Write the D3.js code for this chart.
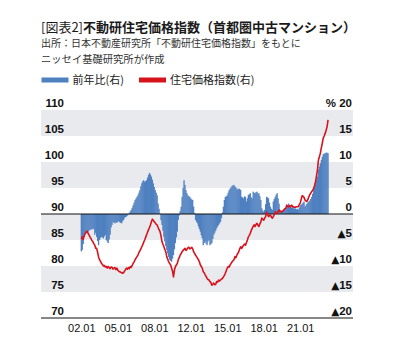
<!DOCTYPE html>
<html>
<head>
<meta charset="utf-8">
<script src="https://cdn.jsdelivr.net/npm/d3@7"></script>
<style>
  body { margin: 0; background: #fff; }
  svg { font-family: "Noto Sans", "Noto Sans CJK JP", sans-serif; }
  .jp { font-family: "Noto Sans CJK JP", sans-serif; }
  .axis text { fill: #111; }
</style>
</head>
<body>
<div id="chart-area"></div>
<script>

// Tick labels (x axis is monthly, starting 2002.01)
var tickLabels = ["02.01", "05.01", "08.01", "12.01", "15.01", "18.01", "21.01"];
var tickIndex = [0, 38, 76, 114, 152, 190, 228];
var leftTicks = [70, 75, 80, 85, 90, 95, 100, 105, 110];
var rightTicks = [-20, -15, -10, -5, 0, 5, 10, 15, 20];

// 住宅価格指数 (monthly, 2002.01 -)
var priceIndex = [
  85.2, 85.6, 85.1, 85.9, 86.2, 86.5, 86.7, 86.3, 86.0, 85.6, 85.3, 84.9,
  84.7, 84.3, 84.0, 83.4, 83.4, 82.6, 81.7, 81.2, 80.9, 80.5, 80.3, 80.0,
  80.1, 79.8, 79.9, 79.6, 79.9, 79.7, 79.5, 79.8, 79.75, 79.4, 79.6, 79.7,
  79.3, 79.6, 79.2, 79.0, 78.9, 78.8, 78.7, 78.6, 78.7, 79.0, 79.3, 79.6,
  79.4, 79.7, 79.5, 79.9, 79.75, 80.1, 80.5, 80.8, 81.2, 81.5, 81.8, 82.1,
  82.6, 82.9, 83.3, 83.7, 84.1, 84.6, 85.0, 85.5, 86.0, 86.5, 87.0, 87.4,
  87.9, 88.5, 89.0, 88.8, 88.5, 88.3, 88.0, 87.9, 87.4, 87.0, 86.6, 85.8,
  84.7, 84.2, 83.7, 83.2, 82.75, 81.8, 81.3, 80.8, 80.5, 80.2, 79.6, 79.0,
  77.9, 79.2, 79.9, 80.2, 80.5, 81.2, 81.6, 82.1, 82.4, 82.75, 83.0, 83.2,
  83.4, 83.0, 83.2, 83.5, 83.6, 83.3, 83.4, 83.6, 83.3, 82.75, 82.4, 82.1,
  81.8, 81.5, 81.2, 80.8, 80.2, 79.9, 79.6, 78.9, 78.7, 78.3, 78.0, 77.6,
  77.4, 77.3, 77.0, 76.8, 76.3, 76.5, 76.7, 76.4, 76.5, 77.0, 76.9, 77.3,
  77.1, 77.3, 77.5, 77.6, 77.9, 78.2, 78.6, 79.1, 79.6, 79.9, 79.8, 80.2,
  80.5, 80.8, 81.0, 81.2, 81.8, 81.6, 82.1, 82.4, 82.75, 83.3, 83.7, 83.4,
  83.7, 84.0, 84.2, 84.0, 84.5, 85.0, 85.6, 85.9, 86.3, 86.8, 87.25, 87.6,
  87.9, 87.6, 88.0, 88.2, 87.8, 87.6, 88.1, 88.5, 89.2, 89.0, 88.8, 89.2,
  89.5, 90.4, 89.9, 89.5, 89.7, 89.8, 89.4, 89.2, 89.5, 89.9, 90.4, 90.2,
  90.1, 90.5, 90.8, 90.4, 90.5, 90.4, 90.6, 90.8, 91.0, 91.1, 91.7, 91.5,
  91.4, 91.6, 91.4, 91.7, 91.5, 91.4, 91.3, 91.3, 91.4, 91.4, 91.4, 91.8,
  92.1, 92.8, 93.5, 93.4, 93.2, 92.7, 92.5, 92.4, 92.8, 93.3, 93.7, 94.0,
  94.3, 94.6, 94.9, 95.5, 96.2, 97.4, 98.5, 100.4, 101.0, 101.7, 102.7, 103.6,
  104.6, 105.0, 105.5, 106.1, 106.8, 108.1
];

// 前年比 % (monthly, 2002.01 -)
var yoyChange = [
  -7.2, -6.9, -5.8, -4.4, -3.9, -3.6, -3.3, -3.5, -3.2, -3.1, -2.9, -3.0,
  -2.8, -2.9, -4.0, -3.6, -4.4, -5.2, -6.0, -5.0, -4.6, -4.4, -4.5, -4.7,
  -4.3, -4.0, -5.0, -5.3, -5.6, -4.9, -4.0, -2.6, -2.1, -1.5, -1.7, -1.8,
  -1.6, -1.7, -1.5, -1.4, -1.6, -1.7, -1.8, -1.4, -1.15, -0.8, -0.6, -0.5,
  -0.3, -0.1, 0.2, 0.5, 0.8, 1.2, 1.7, 2.2, 2.7, 3.0, 3.3, 3.6,
  4.1, 4.6, 5.3, 5.9, 6.3, 6.5, 6.2, 6.3, 6.5, 7.0, 7.5, 7.9,
  7.6, 7.2, 6.6, 5.9, 5.2, 4.6, 4.1, 3.6, 2.0, 1.0, 0.1, -1.2,
  -2.1, -3.2, -4.4, -5.3, -6.2, -6.9, -7.6, -8.3, -8.8, -9.0, -9.2, -8.6,
  -7.9, -6.8, -5.6, -4.5, -3.4, -1.15, -0.3, 0.6, 1.4, 3.3, 5.0, 6.5,
  5.6, 4.6, 4.0, 3.6, 3.4, 3.3, 3.0, 2.8, 2.7, 1.4, 0.2, -1.15,
  -1.5, -1.8, -2.4, -2.9, -3.4, -4.1, -4.7, -6.0, -5.6, -5.3, -5.7, -6.0,
  -5.3, -5.0, -6.0, -5.8, -5.6, -4.8, -4.0, -3.6, -3.2, -2.75, -2.4, -2.1,
  -1.8, -1.5, -0.8, 0.3, 1.4, 2.7, 3.3, 3.4, 3.6, 4.1, 4.6, 4.9,
  5.1, 5.4, 5.5, 5.6, 5.3, 5.1, 4.9, 4.7, 4.9, 4.8, 4.6, 3.3,
  3.2, 3.0, 3.4, 3.3, 2.4, 3.0, 3.65, 3.8, 4.0, 3.2, 3.0, 4.3,
  4.1, 4.0, 4.2, 4.3, 3.9, 4.0, 3.4, 2.7, 1.1, 0.7, 0.45, 0.8,
  1.9, 3.3, 3.2, 3.0, 2.2, 1.4, 1.0, 0.8, 2.4, 2.9, 3.3, 3.7,
  4.0, 3.0, 2.0, 0.8, 0.6, 0.45, 0.6, 0.8, 1.1, 1.2, 1.4, 1.7,
  2.0, 1.6, 1.5, 1.2, 1.4, 1.3, 1.0, 1.1, 0.9, 1.0, 0.8, 1.2,
  1.7, 1.8, 2.0, 2.2, 2.4, 1.4, 1.7, 2.0, 2.2, 2.4, 2.6, 2.9,
  3.3, 3.9, 4.6, 5.2, 5.9, 6.6, 7.2, 8.5, 9.1, 9.75, 10.4, 11.0,
  11.5, 11.6, 11.7, 11.8, 11.8, 11.7
];

// SVG Size
var width = 395,
    height = 351;

var plotLeft = 41, plotRight = 353,
    plotTop = 110, plotBottom = 318;

var svg = d3.select("#chart-area").append("svg")
    .attr("width", width)
    .attr("height", height);

// Scales
var x = d3.scaleLinear()
    .domain([-42, 283])
    .range([plotLeft, plotRight]);

var yLeft = d3.scaleLinear()
    .domain([70, 110])
    .range([plotBottom, plotTop]);

var yRight = d3.scaleLinear()
    .domain([-20, 20])
    .range([plotBottom, plotTop]);

// Title & source
var title = svg.append("text")
    .attr("class", "jp")
    .attr("x", 41)
    .attr("y", 31.5)
    .attr("font-size", 13)
    .attr("fill", "#1a1a1a");
title.append("tspan").text("[図表2]");
title.append("tspan").attr("font-weight", "bold").text("不動研住宅価格指数（首都圏中古マンション）");

svg.append("text")
    .attr("class", "jp")
    .attr("x", 41).attr("y", 47)
    .attr("font-size", 10)
    .attr("fill", "#333")
    .text("出所：日本不動産研究所「不動研住宅価格指数」をもとに");

svg.append("text")
    .attr("class", "jp")
    .attr("x", 41).attr("y", 63)
    .attr("font-size", 10.3)
    .attr("fill", "#333")
    .text("ニッセイ基礎研究所が作成");

// Legend
var legend = [
  { label: "前年比(右)", color: "#4f80c0", x: 41.5 },
  { label: "住宅価格指数(右)", color: "#d7141e", x: 139 }
];
var lg = svg.selectAll(".legend")
    .data(legend)
    .enter()
    .append("g")
    .attr("class", "legend")
    .attr("transform", function(d){ return "translate(" + d.x + ",80)"; });
lg.append("rect")
    .attr("x", 0).attr("y", -2.5)
    .attr("width", 27).attr("height", 5)
    .attr("fill", function(d){ return d.color; });
lg.append("text")
    .attr("class", "jp")
    .attr("x", 31).attr("y", 4)
    .attr("font-size", 11)
    .attr("fill", "#222")
    .text(function(d){ return d.label; });

// Alternating bands
var bands = [[105, 110], [95, 100], [85, 90], [75, 80]];
svg.selectAll(".band")
    .data(bands)
    .enter()
    .append("rect")
    .attr("class", "band")
    .attr("x", plotLeft)
    .attr("width", plotRight - plotLeft)
    .attr("y", function(d){ return yLeft(d[1]); })
    .attr("height", function(d){ return yLeft(d[0]) - yLeft(d[1]); })
    .attr("fill", "#e8eaed");

// Bars (前年比, right axis)
var barW = x(1) - x(0) + 0.35;
svg.selectAll(".bar")
    .data(yoyChange)
    .enter()
    .append("rect")
    .attr("class", "bar")
    .attr("x", function(d, i){ return x(i) - barW / 2; })
    .attr("width", barW)
    .attr("y", function(d){ return yRight(Math.max(0, d)); })
    .attr("height", function(d){ return Math.abs(yRight(d) - yRight(0)); })
    .attr("fill", "#4f80c0");

// Zero line and bottom axis line
svg.append("line")
    .attr("x1", plotLeft).attr("x2", plotRight)
    .attr("y1", yRight(0)).attr("y2", yRight(0))
    .attr("stroke", "#111").attr("stroke-width", 1);
svg.append("line")
    .attr("x1", plotLeft).attr("x2", plotRight)
    .attr("y1", plotBottom).attr("y2", plotBottom)
    .attr("stroke", "#111").attr("stroke-width", 1);

// Price index line
var line = d3.line()
    .x(function(d, i){ return x(i); })
    .y(function(d){ return yLeft(d); });

svg.append("path")
    .datum(priceIndex)
    .attr("d", line)
    .attr("fill", "none")
    .attr("stroke", "#d7141e")
    .attr("stroke-width", 1.6)
    .attr("stroke-linejoin", "round");

// Axes
var leftAxis = d3.axisLeft(yLeft)
    .tickValues(leftTicks)
    .tickSize(0)
    .tickPadding(2);

svg.append("g")
    .attr("class", "axis")
    .attr("transform", "translate(66,0)")
    .call(leftAxis)
    .call(function(g){ g.select(".domain").remove(); })
    .selectAll("text")
      .attr("dy", "-0.28em")
      .attr("font-size", 11.5)
      .attr("font-weight", 600);

var rightAxis = d3.axisRight(yRight)
    .tickValues(rightTicks)
    .tickSize(0)
    .tickFormat(function(d){ return d === 20 ? "% 20" : Math.abs(d); });

var rg = svg.append("g")
    .attr("class", "axis")
    .attr("transform", "translate(352,0)")
    .call(rightAxis)
    .call(function(g){ g.select(".domain").remove(); });

rg.selectAll("text")
    .attr("x", 0)
    .attr("dy", "-0.28em")
    .attr("text-anchor", "end")
    .attr("font-size", 11.5)
    .attr("font-weight", 600);

// negative values get a larger ▲ prefix
rg.selectAll(".tick")
    .filter(function(d){ return d < 0; })
    .select("text")
    .text(null)
    .call(function(t){
      t.append("tspan")
        .attr("font-family", "DejaVu Sans")
        .attr("font-size", 10.5)
        .text("▲");
      t.append("tspan").text(function(d){ return -d; });
    });

var bottomAxis = d3.axisBottom(x)
    .tickValues(tickIndex)
    .tickSize(0)
    .tickPadding(6)
    .tickFormat(function(d, i){ return tickLabels[i]; });

svg.append("g")
    .attr("class", "axis")
    .attr("transform", "translate(0," + plotBottom + ")")
    .call(bottomAxis)
    .call(function(g){ g.select(".domain").remove(); })
    .selectAll("text")
      .attr("font-size", 11);

</script>
</body>
</html>
